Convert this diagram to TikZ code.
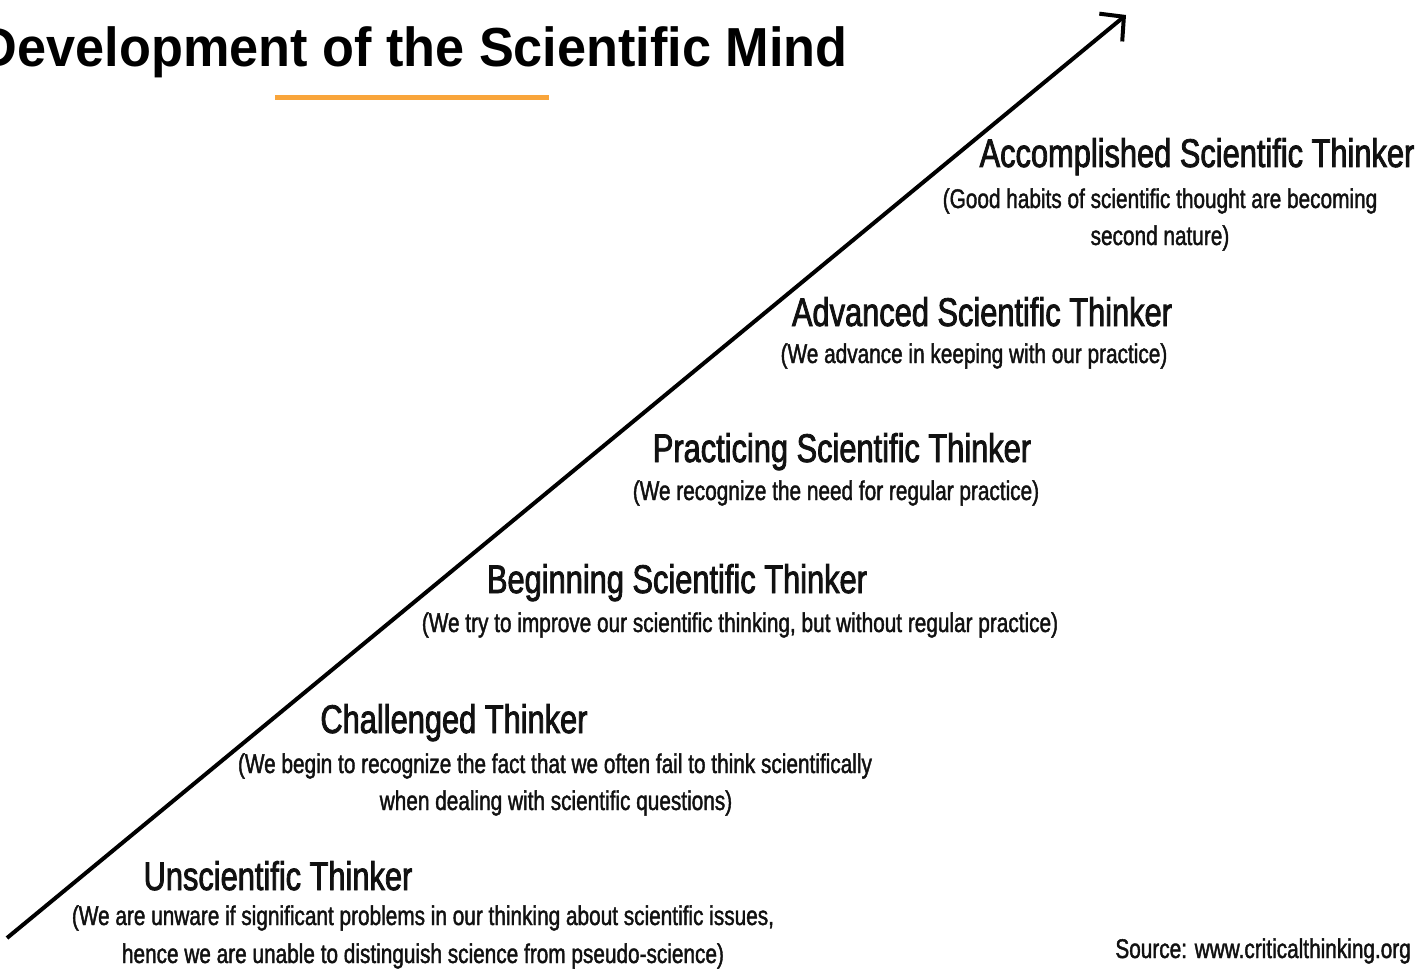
\documentclass[tikz,border=0pt]{standalone}
\usepackage{fontspec}
\setmainfont{Liberation Sans}
\newfontfamily\stagefont[FakeStretch=0.77,FakeBold=2]{Liberation Sans}
\newfontfamily\notefont[FakeStretch=0.77,FakeBold=1.5]{Liberation Sans}
\newfontfamily\titlefont[FakeStretch=0.95]{Liberation Sans}
\usetikzlibrary{arrows.meta}
\definecolor{rulecolor}{HTML}{F9A53B}
\definecolor{ink}{HTML}{111111}
\tikzset{
  stage/.style={anchor=base, inner sep=0pt, text=ink,
    font=\stagefont\fontsize{40}{48}\selectfont},
  note/.style={anchor=base, inner sep=0pt, text=ink,
    font=\notefont\fontsize{27}{37}\selectfont},
  rising/.style={draw=black, line width=4pt,
    -{Straight Barb[length=17pt,width=36pt]}},
}

\begin{document}
\begin{tikzpicture}[x=1pt,y=-1pt]
  \useasboundingbox (0,0) rectangle (1428,971);

  % heading and its underline
  \node (title) [anchor=base east, inner sep=0pt,
    font=\titlefont\bfseries\fontsize{55}{60}\selectfont] at (848,67)
    {Development of the Scientific Mind};
  \draw[rulecolor, line width=5pt] (275,98) -- (549,98);

  % the rising line
  \coordinate (start) at (7,938);
  \coordinate (tip) at (1126,15);
  \path (start) edge[rising] (tip);

  % stages, top to bottom
  \node (h1) [stage] at (1197,167) {Accomplished Scientific Thinker};
  \node (n1a) [note] at (1160,208) {(Good habits of scientific thought are becoming};
  \node (n1b) [note] at (1160,245) {second nature)};

  \node (h2) [stage] at (982,326) {Advanced Scientific Thinker};
  \node (n2) [note] at (974,363) {(We advance in keeping with our practice)};

  \node (h3) [stage] at (842,462) {Practicing Scientific Thinker};
  \node (n3) [note] at (836,500) {(We recognize the need for regular practice)};

  \node (h4) [stage] at (677,593) {Beginning Scientific Thinker};
  \node (n4) [note] at (740,632) {(We try to improve our scientific thinking, but without regular practice)};

  \node (h5) [stage] at (454,733) {Challenged Thinker};
  \node (n5a) [note] at (555,773) {(We begin to recognize the fact that we often fail to think scientifically};
  \node (n5b) [note] at (556,810) {when dealing with scientific questions)};

  \node (h6) [stage] at (278,890) {Unscientific Thinker};
  \node (n6a) [note] at (423,925) {(We are unware if significant problems in our thinking about scientific issues,};
  \node (n6b) [note] at (423,963) {hence we are unable to distinguish science from pseudo-science)};

  \node (source) [note, anchor=base east] at (1411,958) {Source: www.criticalthinking.org};
\end{tikzpicture}
\end{document}
